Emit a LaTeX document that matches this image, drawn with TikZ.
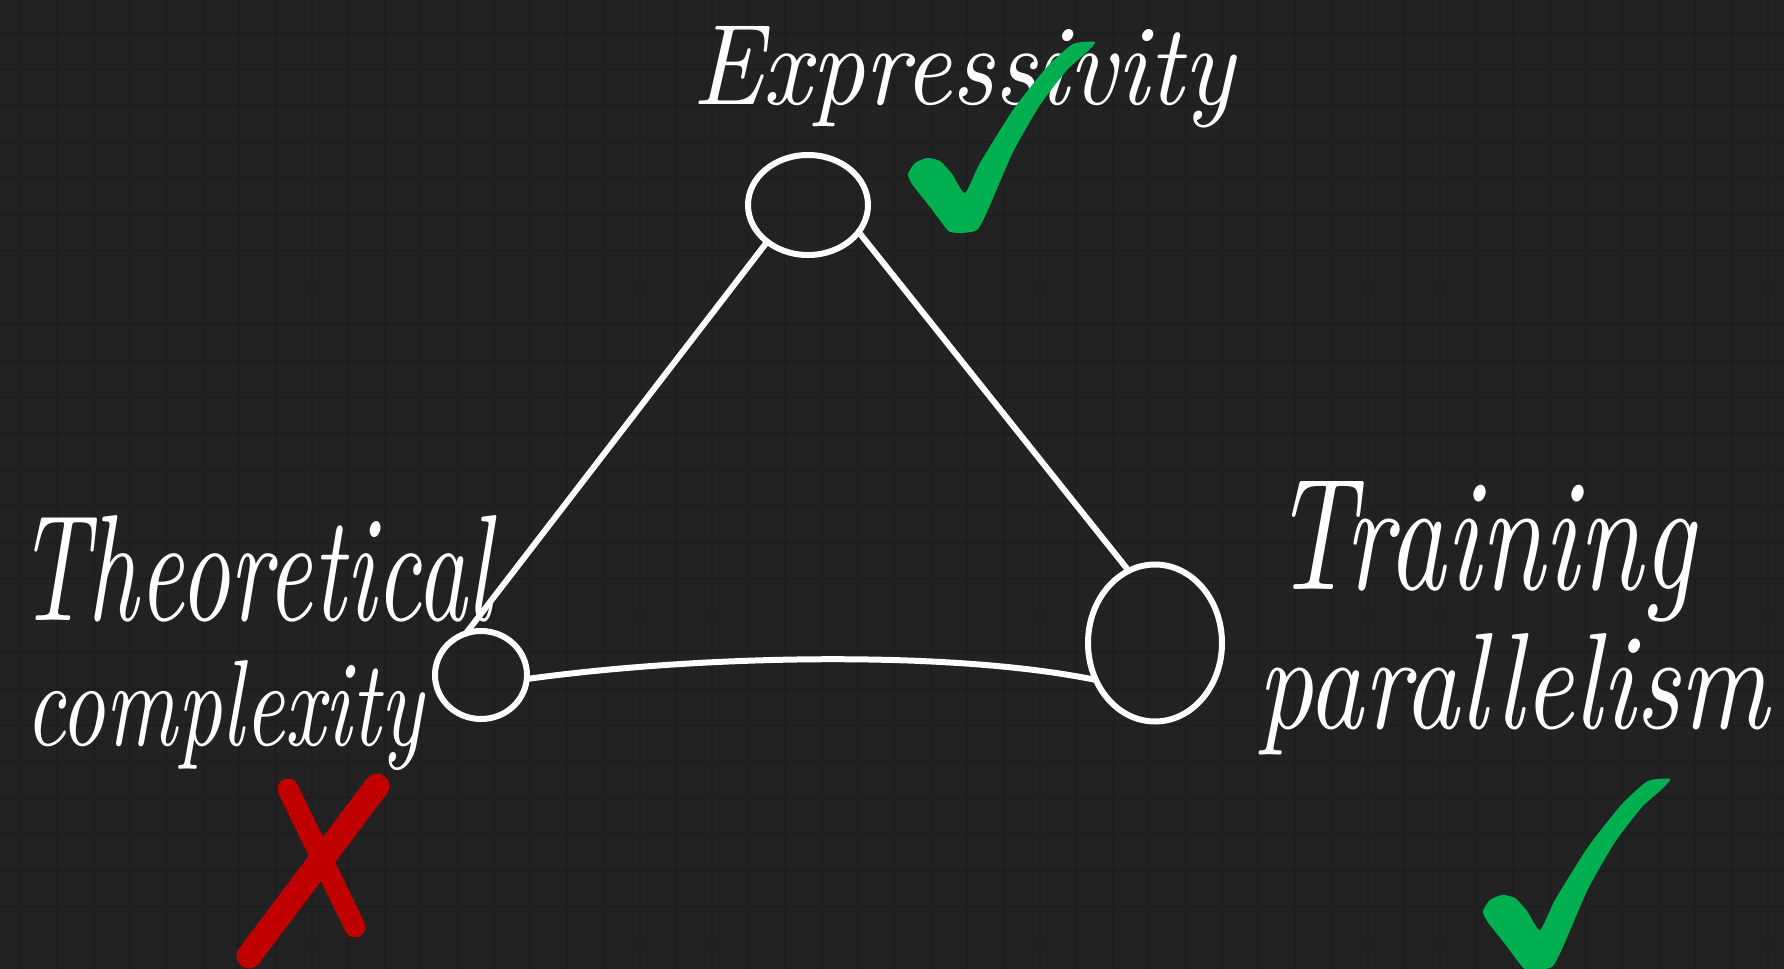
\documentclass[tikz,border=0pt]{standalone}
\usepackage{graphicx}
\usetikzlibrary{shapes.geometric}
\definecolor{bg}{HTML}{222222}
\definecolor{gridc}{HTML}{1E1E1E}
\definecolor{chk}{HTML}{00B050}
\definecolor{crs}{HTML}{C00000}
\newcommand\handtxt[3]{\resizebox{#1}{#2}{\itshape #3}}
\tikzset{
  hw/.style={text=white, inner sep=0pt, outer sep=0pt, anchor=base west},
  stroke/.style={draw=white, line width=3pt, line cap=round, line join=round},
  circ/.style={ellipse, draw=white, line width=3pt, inner sep=0pt, outer sep=0pt},
  gridline/.style={draw=gridc, line width=1pt},
  checkfill/.style={fill=chk},
  crossline/.style={draw=crs, line cap=round}
}
\begin{document}
\begin{tikzpicture}[x=0.5pt,y=-0.5pt]
\path[use as bounding box, fill=bg] (0,0) rectangle (1784,969);
\begin{scope}
\clip (0,0) rectangle (1784,969);
\foreach \i in {0,...,49} \draw[gridline] ({20.7+36.4*\i},0) -- ++(0,969);
\foreach \j in {0,...,26} \draw[gridline] (0,{32.5+36.45*\j}) -- ++(1784,0);

% circles
\node[circ, minimum width=60pt, minimum height=50pt] (E) at (808,205) {};
\node[circ, minimum width=46pt, minimum height=44pt] (L) at (481,675) {};
\node[circ, minimum width=67pt, minimum height=78.5pt] (R) at (1155,643) {};

% connectors
\draw[stroke] (E.222) -- (L.110);
\draw[stroke] (E.-28) -- (R.110);
\draw[stroke] (L.-5) .. controls (700,655) and (950,650) .. (R.212);

% labels
\node[hw] (tExp) at (692,104) {\handtxt{271pt}{39pt}{Expressivity}};
\node[hw] (tTheo) at (17,620) {\handtxt{237.5pt}{52.5pt}{Theoretical}};
\node[hw] (tComp) at (25,745) {\handtxt{199pt}{42.5pt}{complexity}};
\node[hw] (tTrain) at (1272,589) {\handtxt{211.5pt}{54pt}{Training}};
\node[hw] (tPar) at (1257,728) {\handtxt{256pt}{47.5pt}{parallelism}};

% check marks
\def\checkpath{plot[smooth cycle, tension=0.35] coordinates {
 (1095,42) (1087,52) (1067,70) (1040,105) (1013,152) (987,212) (977,230)
 (962,233) (950,232) (945,227) (930,207) (912,184) (908,174) (915,163)
 (927,158) (940,161) (952,174) (965,193) (980,163) (1013,110) (1047,67) (1073,44)}}
\fill[checkfill] \checkpath;
\begin{scope}[shift={(575,737)}]
\fill[checkfill] \checkpath;
\end{scope}

% cross
\draw[crossline, line width=10.5pt] (288,789) -- (355,927);
\draw[crossline, line width=12.5pt] (377,786) -- (249,956);
\end{scope}
\end{tikzpicture}
\end{document}
